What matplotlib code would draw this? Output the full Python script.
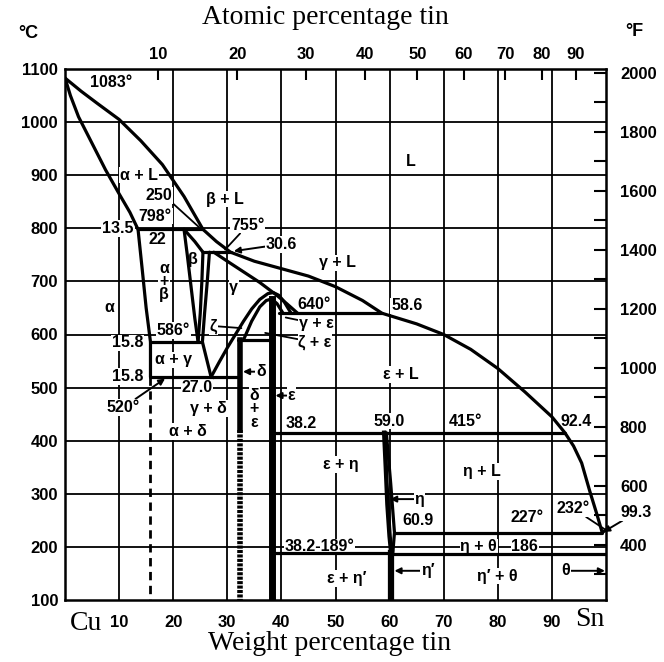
import numpy as np
import matplotlib.pyplot as plt

plt.rcParams['font.family'] = ['Liberation Sans', 'DejaVu Sans']

# ---- phase boundaries, (wt% Sn, deg C) ----
liq_wt = [0, 3, 6, 10, 14, 18, 22, 25.5, 28, 30.6, 35, 40, 45, 50, 55, 58.6,
          65, 70, 75, 80, 85, 90, 92.4, 94, 95.5, 97, 98.3, 99.3]
liq_T = [1083, 1058, 1035, 1005, 965, 920, 860, 798, 775, 755, 738, 724, 710,
         690, 664, 640, 620, 600, 572, 536, 492, 445, 415, 390, 358, 305, 262, 227]

sol_a_wt = [0, 1, 2.5, 5, 7.5, 10, 12, 13.5]
sol_a_T = [1083, 1050, 1010, 960, 910, 865, 830, 798]

solv_a_wt = [13.5, 14.3, 15.0, 15.8, 15.8]
solv_a_T = [798, 720, 650, 586, 520]

beta_l_wt = [22.0, 22.6, 23.3, 24.0, 24.6]
beta_l_T = [798, 750, 690, 630, 586]
beta_sol_wt = [22.0, 24.0, 25.5]
beta_sol_T = [798, 775, 755]
beta_r_wt = [25.5, 25.3, 25.0, 24.6]
beta_r_T = [755, 700, 640, 586]
gam_l_wt = [26.7, 26.3, 25.8, 25.4, 27.0]
gam_l_T = [755, 700, 640, 586, 520]

gam_sol_wt = [27.5, 30, 33, 36, 39, 41, 43]
gam_sol_T = [755, 738, 718, 698, 675, 658, 640]

dome_wt = [27.0, 28.5, 30, 31.5, 33, 34.5, 36, 37.5, 38.5, 39.5, 40.5, 41.2, 41.8]
dome_T = [520, 548, 575, 600, 625, 648, 666, 677, 679, 674, 662, 650, 640]
inner_wt = [33.0, 34.5, 36, 37.2, 38.2, 39.2, 40.0, 40.3]
inner_T = [590, 625, 652, 664, 667, 658, 645, 640]

eta_l_wt = [59.0, 59.3, 59.6, 60.0, 60.3]
eta_l_T = [415, 350, 280, 220, 189]
eta_r_wt = [59.4, 60.2, 60.9, 60.6]
eta_r_T = [415, 320, 227, 189]

# horizontal invariant lines: (T, wt from, wt to)
iso_T = [798, 755, 586, 520, 590, 640, 415, 227, 189, 186]
iso_from = [13.5, 25.5, 15.8, 15.8, 32.0, 39.5, 38.2, 60.9, 38.2, 60.3]
iso_to = [25.5, 30.6, 25.4, 32.4, 38.2, 58.6, 92.4, 99.3, 60.3, 100]

delta_wt = 32.4
eps_wt = 38.2
etap_wt = 60.3

grid_T = [200, 300, 400, 500, 600, 700, 800, 900, 1000]
grid_wt = [10, 20, 30, 40, 50, 60, 70, 80, 90]

# labels: (text, wt, T)
labels = [
    ("1083°", 8.5, 1075), ("α + L", 13.7, 900), ("250", 17.4, 862),
    ("798°", 16.7, 823), ("22", 17.0, 778), ("13.5", 9.8, 800),
    ("β + L", 29.5, 855), ("L", 64, 925), ("γ + L", 50.4, 735),
    ("α\n+\nβ", 18.3, 700), ("β", 23.6, 742), ("γ", 31.2, 688),
    ("α", 8.1, 651), ("640°", 46, 657), ("58.6", 63.2, 654),
    ("15.8", 11.5, 584), ("586°", 20, 608), ("α + γ", 20, 552),
    ("15.8", 11.5, 521), ("γ + δ", 26.5, 461), ("α + δ", 22.7, 417),
    ("δ\n+\nε", 35.0, 460), ("38.2", 43.7, 432), ("ε + L", 62, 525),
    ("59.0", 60, 437), ("415°", 74, 437), ("92.4", 94.5, 437),
    ("ε + η", 51, 355), ("η + L", 77, 342), ("60.9", 65.2, 250),
    ("227°", 85.5, 255), ("38.2-189°", 47, 200), ("η + θ", 76.5, 200),
    ("186", 85, 200), ("ε + η′", 52, 140), ("η′ + θ", 80, 145),
]
# labels with arrows: (text, wt, T, target wt, target T)
arrows = [
    ("δ", 36.2, 530, 32.9, 530), ("ε", 41.8, 485, 38.9, 485),
    ("η", 65.5, 290, 60.1, 290), ("η′", 67.0, 155, 60.9, 155),
    ("θ", 92.5, 155, 99.8, 155), ("30.6", 40.0, 770, 31.2, 757),
    ("27.0", 24.4, 500, 27.6, 519), ("520°", 10.8, 463, 18.5, 517),
    ("99.3", 105.6, 265, 99.5, 228),
]
leaders = [
    ("755°", 33.8, 806, 29.6, 760), ("ζ", 27.4, 616, 32.6, 612),
    ("γ + ε", 46.5, 620, 40.8, 632), ("ζ + ε", 46.2, 585, 37.0, 603),
    ("232°", 94.0, 272, 99.8, 233),
]
lead_250 = (25.0, 800)


def wt2at(w):
    w = np.clip(np.asarray(w, float), 1e-6, 100 - 1e-6)
    s, c = w / 118.71, (100 - w) / 63.55
    return 100 * s / (s + c)


def at2wt(a):
    a = np.clip(np.asarray(a, float), 1e-6, 100 - 1e-6)
    s, c = a * 118.71, (100 - a) * 63.55
    return 100 * s / (s + c)


fig = plt.figure(figsize=(6.64, 6.62), dpi=100)
ax = fig.add_axes([65 / 664, 1 - 600 / 662, 541 / 664, 531 / 662])
ax.set_xlim(0, 100)
ax.set_ylim(100, 1100)

# grid
for t in grid_T:
    ax.plot([0, 100], [t, t], color='k', lw=1.3, zorder=1)
for w in grid_wt:
    ax.plot([w, w], [100, 1000 if w == 10 else 1100], color='k', lw=1.3, zorder=1)

kw = dict(color='k', lw=2.3, zorder=3, solid_capstyle='round', solid_joinstyle='round')
for xs, ys in [(liq_wt, liq_T), (sol_a_wt, sol_a_T), (solv_a_wt, solv_a_T),
               (beta_l_wt, beta_l_T), (beta_sol_wt, beta_sol_T),
               (beta_r_wt, beta_r_T), (gam_l_wt, gam_l_T),
               (gam_sol_wt, gam_sol_T), (dome_wt, dome_T), (inner_wt, inner_T),
               (eta_r_wt, eta_r_T)]:
    ax.plot(xs, ys, **kw)
ax.plot(eta_l_wt, eta_l_T, color='k', lw=3.2, zorder=3)
ax.plot([99.3, 100], [227, 232], **kw)
for t, a, b in zip(iso_T, iso_from, iso_to):
    ax.plot([a, b], [t, t], **kw)

ax.plot([15.8, 15.8], [520, 100], color='k', lw=2.0, ls=(0, (3, 2)), zorder=3)
ax.plot([delta_wt, delta_wt], [590, 420], color='k', lw=4, zorder=3)
ax.plot([delta_wt, delta_wt], [420, 100], color='k', lw=4, ls=(0, (0.55, 0.25)), zorder=3)
ax.plot([eps_wt, eps_wt], [100, 667], color='k', lw=5, zorder=3)
ax.plot([etap_wt, etap_wt], [100, 189], color='k', lw=4.5, zorder=3)

box = dict(facecolor='white', edgecolor='none', pad=0.6)
tkw = dict(ha='center', va='center', fontsize=11.5, fontweight='bold', zorder=2.5)
for s, w, t in labels:
    ax.text(w, t, s, bbox=box, linespacing=0.85, **tkw)

for s, w, t, tw, tt in arrows:
    ax.annotate(s, xy=(tw, tt), xytext=(w, t), bbox=box, annotation_clip=False,
                arrowprops=dict(arrowstyle='-|>', color='k', lw=1.4, mutation_scale=9,
                                shrinkA=0, shrinkB=0), **tkw)
for s, w, t, tw, tt in leaders:
    ax.annotate(s, xy=(tw, tt), xytext=(w, t), bbox=box,
                arrowprops=dict(arrowstyle='-', color='k', lw=1.3,
                                shrinkA=0, shrinkB=0), **tkw)
ax.plot([19.6, lead_250[0]], [850, lead_250[1]], color='k', lw=1.3, zorder=2.4)

for sp in ax.spines.values():
    sp.set_linewidth(1.8)

ax.set_yticks(range(100, 1200, 100))
ax.set_xticks(grid_wt)
ax.tick_params(length=0, labelsize=12)
ax.tick_params(axis='x', pad=11)
ax.tick_params(axis='y', pad=5)
for lab in ax.get_xticklabels() + ax.get_yticklabels():
    lab.set_fontweight('bold')

top = ax.secondary_xaxis('top', functions=(wt2at, at2wt))
top.set_xticks(range(10, 100, 10))
top.tick_params(direction='in', length=8, width=1.5, pad=5, labelsize=12)
for lab in top.get_xticklabels():
    lab.set_fontweight('bold')

right = ax.secondary_yaxis('right', functions=(lambda c: np.asarray(c) * 9 / 5 + 32,
                                              lambda f: (np.asarray(f) - 32) * 5 / 9))
right.set_yticks(range(400, 2001, 200))
right.set_yticks(range(300, 2001, 100), minor=True)
right.tick_params(which='both', direction='in', length=9, width=1.5, pad=10, labelsize=12)
for lab in right.get_yticklabels():
    lab.set_fontweight('bold')

serif = dict(family=['Liberation Serif', 'DejaVu Serif'], fontsize=20, ha='center', va='center')
fig.text(325 / 664, 1 - 18 / 662, 'Atomic percentage tin', **serif)
fig.text(330 / 664, 1 - 643 / 662, 'Weight percentage tin', **serif)
fig.text(86 / 664, 1 - 623 / 662, 'Cu', **serif)
fig.text(590 / 664, 1 - 620 / 662, 'Sn', **serif)
fig.text(28 / 664, 1 - 33 / 662, '°C', fontsize=13, fontweight='bold', ha='center', va='center')
fig.text(634 / 664, 1 - 31 / 662, '°F', fontsize=13, fontweight='bold', ha='center', va='center')

fig.savefig('out.png', dpi=100)
